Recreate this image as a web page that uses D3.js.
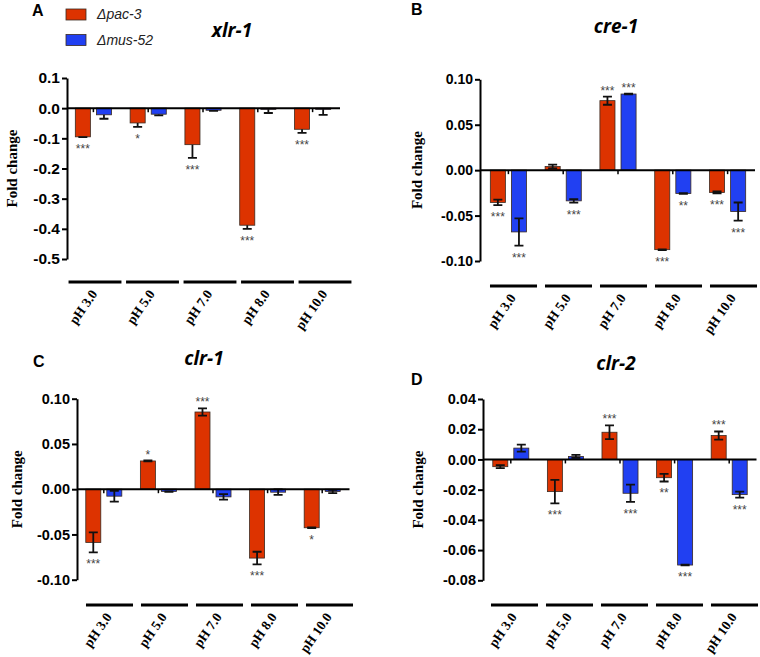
<!DOCTYPE html>
<html>
<head>
<meta charset="utf-8">
<script src="https://cdn.jsdelivr.net/npm/d3@7"></script>
<style>
  html, body { margin: 0; padding: 0; background: #fff; }
  svg { display: block; }
</style>
</head>
<body>
<svg id="chart" width="760" height="657"></svg>
<script>
// ---------------- DATA ----------------
const categories = ["pH 3.0", "pH 5.0", "pH 7.0", "pH 8.0", "pH 10.0"];
const seriesNames = ["Δpac-3", "Δmus-52"];

// A: xlr-1
const xlr1Pac3 = [-0.095, -0.049, -0.121, -0.388, -0.070];
const xlr1Pac3Err = [0.001, 0.013, 0.044, 0.012, 0.012];
const xlr1Mus52 = [-0.022, -0.020, -0.007, -0.004, -0.004];
const xlr1Mus52Err = [0.013, 0.004, 0.002, 0.012, 0.018];
const xlr1Pac3Sig = ["***", "*", "***", "***", "***"];
const xlr1Mus52Sig = ["", "", "", "", ""];
const xlr1Ticks = [0.1, 0.0, -0.1, -0.2, -0.3, -0.4, -0.5];

// B: cre-1
const cre1Pac3 = [-0.0355, 0.004, 0.0765, -0.0875, -0.0245];
const cre1Pac3Err = [0.003, 0.002, 0.0045, 0.0004, 0.001];
const cre1Mus52 = [-0.068, -0.0338, 0.0838, -0.0257, -0.0456];
const cre1Mus52Err = [0.015, 0.002, 0.0005, 0.0004, 0.010];
const cre1Pac3Sig = ["***", "", "***", "***", "***"];
const cre1Mus52Sig = ["***", "***", "***", "**", "***"];
const cre1Ticks = [0.10, 0.05, 0.00, -0.05, -0.10];

// C: clr-1
const clr1Pac3 = [-0.0588, 0.0312, 0.0853, -0.0761, -0.0426];
const clr1Pac3Err = [0.011, 0.0005, 0.004, 0.007, 0.0005];
const clr1Mus52 = [-0.0077, -0.0026, -0.0085, -0.0033, -0.0026];
const clr1Mus52Err = [0.006, 0.0003, 0.003, 0.003, 0.0018];
const clr1Pac3Sig = ["***", "*", "***", "***", "*"];
const clr1Mus52Sig = ["", "", "", "", ""];
const clr1Ticks = [0.10, 0.05, 0.00, -0.05, -0.10];

// D: clr-2
const clr2Pac3 = [-0.0048, -0.0213, 0.018, -0.0121, 0.0158];
const clr2Pac3Err = [0.001, 0.0078, 0.0046, 0.0025, 0.0027];
const clr2Mus52 = [0.0075, 0.002, -0.0224, -0.0699, -0.0233];
const clr2Mus52Err = [0.0023, 0.001, 0.0057, 0.0002, 0.002];
const clr2Pac3Sig = ["", "***", "***", "**", "***"];
const clr2Mus52Sig = ["", "", "***", "***", "***"];
const clr2Ticks = [0.04, 0.02, 0.00, -0.02, -0.04, -0.06, -0.08];

// ---------------- STYLE / LAYOUT ----------------
const colors = ["#DD3300", "#2140F2"];
const panels = [
  { letter: "A", title: "xlr-1", pac: xlr1Pac3, pacErr: xlr1Pac3Err, mus: xlr1Mus52, musErr: xlr1Mus52Err,
    pacSig: xlr1Pac3Sig, musSig: xlr1Mus52Sig, ticks: xlr1Ticks, dec: 1, oneSided: true,
    axisX: 67, band: [66, 340], yTop: 78, yBot: 259, seg: [66.25, 353.75], segPad: 0.08, segY: 282,
    tickFont: 15.5, titleX: 232, titleY: 37, letterX: 32, letterY: 16, ylabX: 12 },
  { letter: "B", title: "cre-1", pac: cre1Pac3, pacErr: cre1Pac3Err, mus: cre1Mus52, musErr: cre1Mus52Err,
    pacSig: cre1Pac3Sig, musSig: cre1Mus52Sig, ticks: cre1Ticks, dec: 2, oneSided: false,
    axisX: 480, band: [481, 755], yTop: 79.3, yBot: 261, seg: [486, 761], segPad: 0.145, segY: 286,
    tickFont: 14, titleX: 616, titleY: 33, letterX: 411, letterY: 15, ylabX: 417 },
  { letter: "C", title: "clr-1", pac: clr1Pac3, pacErr: clr1Pac3Err, mus: clr1Mus52, musErr: clr1Mus52Err,
    pacSig: clr1Pac3Sig, musSig: clr1Mus52Sig, ticks: clr1Ticks, dec: 2, oneSided: false,
    axisX: 77, band: [76.5, 349.5], yTop: 398.7, yBot: 579.7, seg: [82, 357], segPad: 0.145, segY: 605,
    tickFont: 14.5, titleX: 204, titleY: 365, letterX: 33, letterY: 367, ylabX: 17 },
  { letter: "D", title: "clr-2", pac: clr2Pac3, pacErr: clr2Pac3Err, mus: clr2Mus52, musErr: clr2Mus52Err,
    pacSig: clr2Pac3Sig, musSig: clr2Mus52Sig, ticks: clr2Ticks, dec: 2, oneSided: false,
    axisX: 483, band: [483.5, 756.5], yTop: 399, yBot: 580.3, seg: [487, 762], segPad: 0.145, segY: 605,
    tickFont: 14.5, titleX: 616, titleY: 370, letterX: 411, letterY: 385, ylabX: 418 }
];

const svg = d3.select("#chart");
const sansBold = "'Liberation Sans', Arial, sans-serif";
const serif = "'Liberation Serif', 'Times New Roman', serif";

panels.forEach(p => {
  const g = svg.append("g");
  const rows = categories.map((c, i) => ({
    cat: c,
    vals: [
      { s: 0, v: p.pac[i], e: p.pacErr[i], sig: p.pacSig[i] },
      { s: 1, v: p.mus[i], e: p.musErr[i], sig: p.musSig[i] }
    ]
  }));

  const y = d3.scaleLinear()
    .domain([d3.max(p.ticks), d3.min(p.ticks)])
    .range([p.yTop, p.yBot]);
  const x = d3.scaleBand().domain(categories).range(p.band).paddingInner(0.34).paddingOuter(0.17);
  const xi = d3.scaleBand().domain([0, 1]).range([0, x.bandwidth()]).paddingInner(0.286);
  const xs = d3.scaleBand().domain(categories).range(p.seg).paddingInner(p.segPad).paddingOuter(p.segPad / 2);

  // bars
  const grp = g.selectAll("g.grp").data(rows).join("g")
    .attr("transform", d => `translate(${x(d.cat)},0)`);
  grp.selectAll("rect").data(d => d.vals).join("rect")
    .attr("x", d => xi(d.s))
    .attr("width", xi.bandwidth())
    .attr("y", d => y(Math.max(0, d.v)))
    .attr("height", d => Math.abs(y(d.v) - y(0)))
    .attr("fill", d => colors[d.s])
    .attr("stroke", "#3a2a20")
    .attr("stroke-width", 0.8);

  // error bars
  const cap = 4.5;
  grp.selectAll("path.err").data(d => d.vals).join("path")
    .attr("class", "err")
    .attr("fill", "none").attr("stroke", "#111").attr("stroke-width", 1.8)
    .attr("d", d => {
      const cx = xi(d.s) + xi.bandwidth() / 2;
      const dir = d.v < 0 ? -1 : 1;
      const far = y(d.v + dir * d.e);
      const near = p.oneSided ? y(d.v) : y(d.v - dir * d.e);
      let s = `M${cx},${near}L${cx},${far}M${cx - cap},${far}L${cx + cap},${far}`;
      if (!p.oneSided) s += `M${cx - cap},${near}L${cx + cap},${near}`;
      return s;
    });

  // significance stars
  grp.selectAll("text.sig").data(d => d.vals.filter(v => v.sig)).join("text")
    .attr("class", "sig")
    .attr("x", d => xi(d.s) + xi.bandwidth() / 2)
    .attr("y", d => {
      const dir = d.v < 0 ? -1 : 1;
      const far = y(d.v + dir * d.e);
      const center = far - dir * 9;
      return center + 7;
    })
    .attr("text-anchor", "middle")
    .attr("font-family", sansBold)
    .attr("font-size", 12)
    .attr("fill", "#444")
    .text(d => d.sig);

  // zero line
  g.append("line")
    .attr("x1", p.axisX).attr("x2", p.band[1])
    .attr("y1", y(0)).attr("y2", y(0))
    .attr("stroke", "#000").attr("stroke-width", 2);

  // group ticks on the zero line
  g.selectAll("line.gt").data(categories).join("line")
    .attr("class", "gt")
    .attr("x1", d => x(d) + x.bandwidth() / 2).attr("x2", d => x(d) + x.bandwidth() / 2)
    .attr("y1", y(0)).attr("y2", y(0) + 4)
    .attr("stroke", "#000").attr("stroke-width", 1.5);

  // y axis
  const yAxis = d3.axisLeft(y).tickValues(p.ticks).tickSize(5).tickSizeOuter(0)
    .tickFormat(d => d.toFixed(p.dec));
  const ay = g.append("g").attr("transform", `translate(${p.axisX},0)`).call(yAxis);
  ay.select(".domain").attr("stroke", "#000").attr("stroke-width", 2);
  ay.selectAll(".tick line").attr("stroke", "#000").attr("stroke-width", 2);
  ay.selectAll(".tick text")
    .attr("font-family", sansBold).attr("font-weight", "bold")
    .attr("font-size", p.tickFont).attr("fill", "#000").attr("x", -7);

  // y label
  g.append("text")
    .attr("transform", `translate(${p.ylabX},${(p.yTop + p.yBot) / 2}) rotate(-90)`)
    .attr("text-anchor", "middle").attr("dominant-baseline", "central")
    .attr("font-family", serif).attr("font-weight", "bold").attr("font-size", 15)
    .text("Fold change");

  // category segments
  g.selectAll("line.seg").data(categories).join("line")
    .attr("class", "seg")
    .attr("x1", d => xs(d)).attr("x2", d => xs(d) + xs.bandwidth())
    .attr("y1", p.segY).attr("y2", p.segY)
    .attr("stroke", "#000").attr("stroke-width", 3.2);

  g.selectAll("text.cat").data(categories).join("text")
    .attr("class", "cat")
    .attr("transform", d => `translate(${xs(d) + xs.bandwidth() / 2 + 3},${p.segY + 12}) rotate(-55)`)
    .attr("text-anchor", "end")
    .attr("font-family", serif).attr("font-weight", "bold").attr("font-size", 13.5)
    .text(d => d);

  // title and letter
  g.append("text")
    .attr("x", p.titleX).attr("y", p.titleY)
    .attr("text-anchor", "middle")
    .attr("font-family", "'Open Sans', sans-serif").attr("font-weight", "bold")
    .attr("font-style", "italic").attr("font-size", 19)
    .text(p.title);
  g.append("text")
    .attr("x", p.letterX).attr("y", p.letterY)
    .attr("font-family", sansBold).attr("font-weight", "bold").attr("font-size", 16)
    .text(p.letter);
});

// legend
const leg = svg.append("g");
leg.selectAll("rect").data(seriesNames).join("rect")
  .attr("x", 66).attr("y", (d, i) => 9 + i * 25.5)
  .attr("width", 20).attr("height", 11)
  .attr("fill", (d, i) => colors[i]).attr("stroke", "#3a2a20").attr("stroke-width", 0.8);
leg.selectAll("text").data(seriesNames).join("text")
  .attr("x", 97).attr("y", (d, i) => 19 + i * 25.5)
  .attr("font-family", "'Liberation Sans', Arial, sans-serif").attr("font-style", "italic")
  .attr("font-size", 14).attr("fill", "#222")
  .text(d => d);
</script>
</body>
</html>
